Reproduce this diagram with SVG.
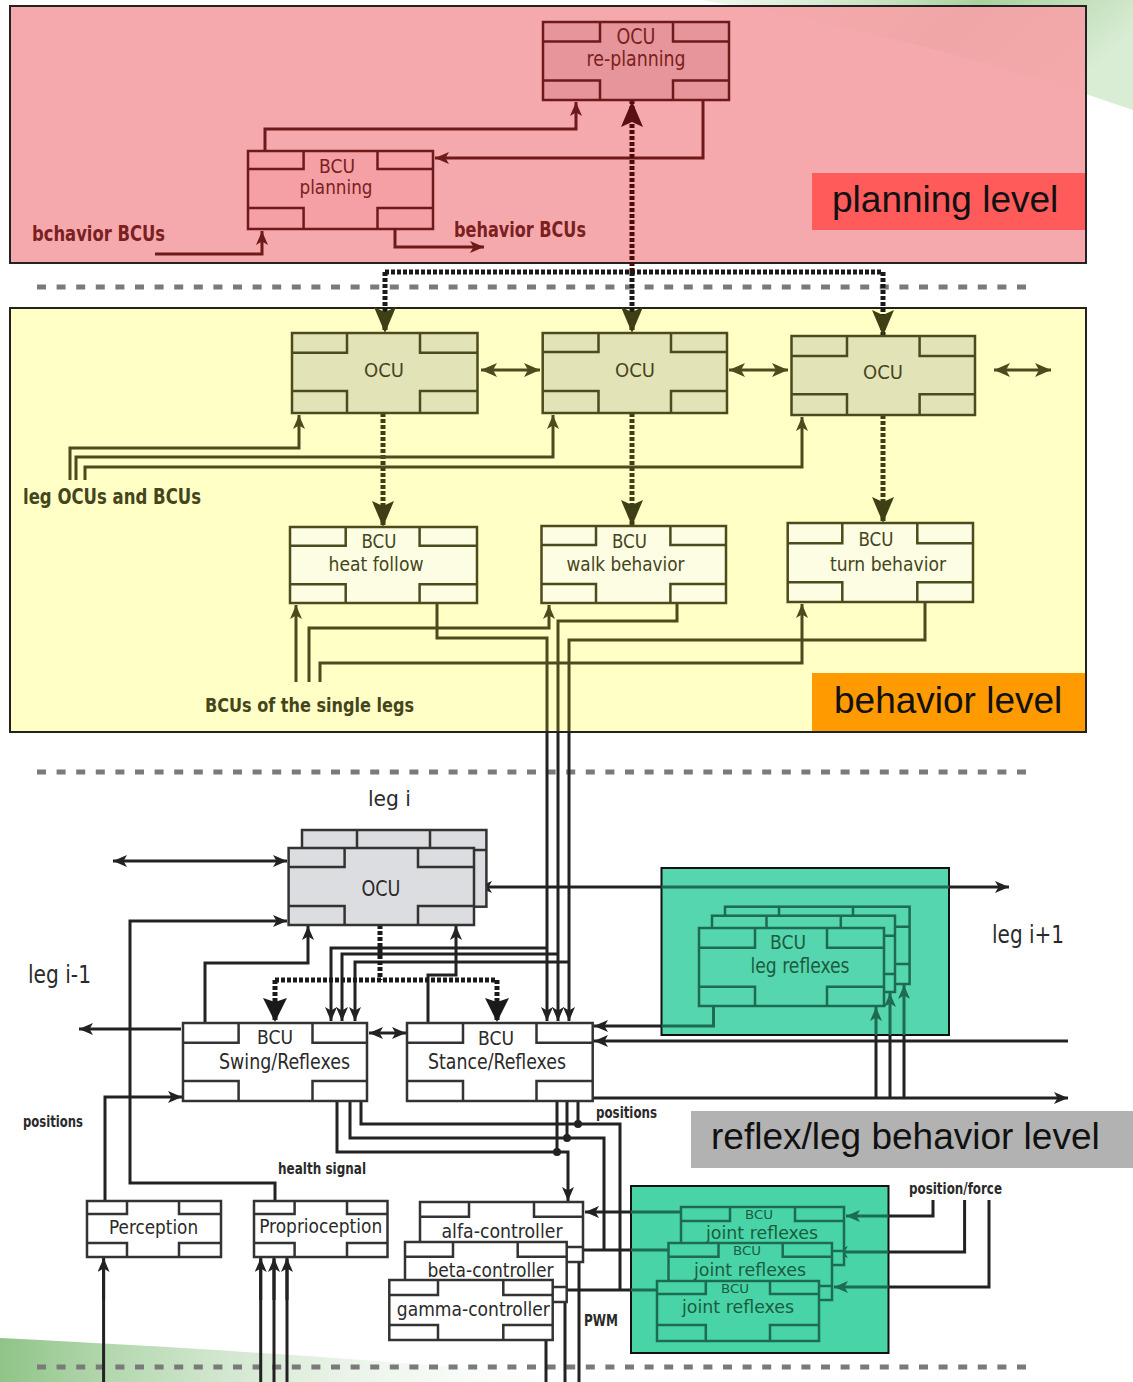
<svg xmlns="http://www.w3.org/2000/svg" width="1133" height="1382" viewBox="0 0 1133 1382">
<style>
.f{font-family:"DejaVu Sans Condensed","DejaVu Sans",sans-serif;font-stretch:condensed}
.L{font-family:"Liberation Sans",Arial,sans-serif;font-size:37px;fill:#111}
.m{text-anchor:middle}
.b{font-weight:bold}
.tr{fill:#7a2020}
.ty{fill:#45451c}
.tk{fill:#2a2a2a}
.tg{fill:#1b5c40}
.box{stroke-width:2.5}
.br{stroke:#6e1a1a}
.by{stroke:#4b4b1e}
.bk{stroke:#333}
.bg{stroke:#1d6b50}
.tab{fill:none;stroke-width:2.5}
.c{fill:none;stroke-width:3}
.cr{stroke:#6e1a1a}
.cy{stroke:#4b4b1e}
.ck{stroke:#222}
.cg{stroke:#1d6b50}
.dot{fill:none;stroke-width:5;stroke-dasharray:4 2}
.sep{fill:none;stroke:#7a7a7a;stroke-width:5;stroke-dasharray:9 10.6}
</style>
<defs>
<marker id="aK" viewBox="0 0 14 12" refX="14" refY="6" markerWidth="14" markerHeight="12" markerUnits="userSpaceOnUse" orient="auto-start-reverse"><path d="M0,0 L14,6 L0,12 L3.5,6z" fill="#222"/></marker>
<marker id="aR" viewBox="0 0 14 12" refX="14" refY="6" markerWidth="14" markerHeight="12" markerUnits="userSpaceOnUse" orient="auto-start-reverse"><path d="M0,0 L14,6 L0,12 L3.5,6z" fill="#6e1a1a"/></marker>
<marker id="aY" viewBox="0 0 14 12" refX="14" refY="6" markerWidth="14" markerHeight="12" markerUnits="userSpaceOnUse" orient="auto-start-reverse"><path d="M0,0 L14,6 L0,12 L3.5,6z" fill="#4b4b1e"/></marker>
<marker id="aY2" viewBox="0 0 16 14" refX="16" refY="7" markerWidth="16" markerHeight="14" markerUnits="userSpaceOnUse" orient="auto-start-reverse"><path d="M0,0 L16,7 L0,14 L4,7z" fill="#4b4b1e"/></marker>
<marker id="aG" viewBox="0 0 14 12" refX="14" refY="6" markerWidth="14" markerHeight="12" markerUnits="userSpaceOnUse" orient="auto-start-reverse"><path d="M0,0 L14,6 L0,12 L3.5,6z" fill="#1d6b50"/></marker>
<marker id="bR" viewBox="0 0 26 22" refX="26" refY="11" markerWidth="26" markerHeight="22" markerUnits="userSpaceOnUse" orient="auto"><path d="M0,0 L26,11 L0,22 L5,11z" fill="#5a1010"/></marker>
<marker id="bY" viewBox="0 0 26 22" refX="26" refY="11" markerWidth="26" markerHeight="22" markerUnits="userSpaceOnUse" orient="auto"><path d="M0,0 L26,11 L0,22 L5,11z" fill="#3f3f16"/></marker>
<marker id="bK" viewBox="0 0 24 24" refX="24" refY="12" markerWidth="24" markerHeight="24" markerUnits="userSpaceOnUse" orient="auto"><path d="M0,0 L24,12 L0,24 L4,12z" fill="#1a1a1a"/></marker>
<linearGradient id="gTop" x1="0" y1="0" x2="1" y2="0.3"><stop offset="0" stop-color="#cfe6c8" stop-opacity="0.3"/><stop offset="0.6" stop-color="#a9d29e"/><stop offset="1" stop-color="#d9ecd4"/></linearGradient>
<linearGradient id="gBot" x1="0" y1="0" x2="1" y2="0"><stop offset="0" stop-color="#8fc487"/><stop offset="1" stop-color="#ffffff" stop-opacity="0"/></linearGradient>
</defs>
<rect width="1133" height="1382" fill="#fff"/>
<g id="background">
<path d="M700,0 L1133,0 L1133,110 C1020,70 860,25 700,0z" fill="url(#gTop)"/>
<path d="M0,1338 C200,1348 420,1362 620,1382 L0,1382z" fill="url(#gBot)"/>
</g>
<g id="levels">
<rect x="10" y="6" width="1076" height="257" fill="#f5a3a7" fill-opacity="0.93" stroke="#222" stroke-width="2"/>
<rect x="10" y="308" width="1076" height="424" fill="#ffffc6" stroke="#222" stroke-width="2"/>
<rect x="661.5" y="868" width="287.5" height="167" fill="#55d6ae" stroke="#111" stroke-width="2"/>
<rect x="631" y="1186" width="257.5" height="167" fill="#48d4a7" stroke="#111" stroke-width="2"/>
<path class="sep" d="M37,287 H1030"/>
<path class="sep" d="M37,772 H1030"/>
<path class="sep" d="M37,1367 H1030"/>
<rect x="812" y="173" width="273" height="57" fill="#ff5b5b"/>
<text class="L" x="832" y="212">planning level</text>
<rect x="812" y="673" width="273" height="58" fill="#ff9a00"/>
<text class="L" x="834" y="713">behavior level</text>
<rect x="691" y="1111" width="442" height="57" fill="#b2b2b2"/>
<text class="L" x="711" y="1149">reflex/leg behavior level</text>
</g>
<g id="connectors">
<!-- planning -->
<path class="c cr" d="M265,151 V129 H576 V102" marker-end="url(#aR)"/>
<path class="c cr" d="M703,100 V158 H435" marker-end="url(#aR)"/>
<path class="c cr" d="M155,254 H262 V231" marker-end="url(#aR)"/>
<path class="c cr" d="M395,229 V247 H484" marker-end="url(#aR)"/>
<path class="dot" stroke="#4a0c0c" d="M632,272 V101" marker-end="url(#bR)"/>
<path class="dot" stroke="#1a1a1a" d="M385,272 H883"/>
<path class="dot" stroke="#1a1a1a" d="M385,272 V333" marker-end="url(#bY)"/>
<path class="dot" stroke="#1a1a1a" d="M632,272 V333" marker-end="url(#bY)"/>
<path class="dot" stroke="#1a1a1a" d="M883,272 V336" marker-end="url(#bY)"/>
<text class="f b tr" x="32" y="241" font-size="21" textLength="133" lengthAdjust="spacingAndGlyphs">bchavior BCUs</text>
<text class="f b tr" x="454" y="237" font-size="21" textLength="132" lengthAdjust="spacingAndGlyphs">behavior BCUs</text>
<!-- behavior -->
<path class="c cy" stroke-width="3.5" d="M481,370 H540" marker-start="url(#aY2)" marker-end="url(#aY2)"/>
<path class="c cy" stroke-width="3.5" d="M729,370 H788" marker-start="url(#aY2)" marker-end="url(#aY2)"/>
<path class="c cy" stroke-width="3.5" d="M994,370 H1051" marker-start="url(#aY2)" marker-end="url(#aY2)"/>
<path class="dot" stroke="#3f3f16" d="M383,413 V527" marker-end="url(#bY)"/>
<path class="dot" stroke="#3f3f16" d="M632,413 V526" marker-end="url(#bY)"/>
<path class="dot" stroke="#3f3f16" d="M883,415 V523" marker-end="url(#bY)"/>
<path class="c cy" d="M70,480 V448 H299 V415" marker-end="url(#aY)"/>
<path class="c cy" d="M76,480 V457 H553 V415" marker-end="url(#aY)"/>
<path class="c cy" d="M85,480 V467 H802 V417" marker-end="url(#aY)"/>
<path class="c cy" d="M296,682 V605" marker-end="url(#aY)"/>
<path class="c cy" d="M309,682 V628 H549 V605" marker-end="url(#aY)"/>
<path class="c cy" d="M320,682 V663 H802 V604" marker-end="url(#aY)"/>
<path class="c ck" d="M547,731 V1021" marker-end="url(#aK)"/>
<path class="c ck" d="M558,731 V1021" marker-end="url(#aK)"/>
<path class="c ck" d="M569,731 V1021" marker-end="url(#aK)"/>
<path class="c cy" d="M437,603 V638 H547 V731"/>
<path class="c cy" d="M677,603 V621 H558 V731"/>
<path class="c cy" d="M925,602 V640 H569 V731"/>
<text class="f b ty" x="23" y="504" font-size="21" textLength="178" lengthAdjust="spacingAndGlyphs">leg OCUs and BCUs</text>
<text class="f b ty" x="205" y="712" font-size="20" textLength="209" lengthAdjust="spacingAndGlyphs">BCUs of the single legs</text>
<!-- leg i -->
<path class="c ck" d="M547,948 H331 V1021" marker-end="url(#aK)"/>
<path class="c ck" d="M558,954 H342 V1021" marker-end="url(#aK)"/>
<path class="c ck" d="M569,962 H355 V1021" marker-end="url(#aK)"/>
<path class="c ck" d="M113,861 H287" marker-start="url(#aK)" marker-end="url(#aK)"/>
<path class="c ck" d="M661.5,887 H478" marker-end="url(#aK)"/>
<path class="c cg" d="M949,887 H661.5"/>
<path class="c ck" d="M949,887 H1009" marker-end="url(#aK)"/>
<path class="c ck" d="M275,1201 V1183 H130 V921 H287" marker-end="url(#aK)"/>
<path class="c ck" d="M205,1023 V963 H308 V926" marker-end="url(#aK)"/>
<path class="c ck" d="M428,1023 V975 H456 V926" marker-end="url(#aK)"/>
<path class="dot" stroke="#1a1a1a" d="M380,925 V980"/>
<path class="dot" stroke="#1a1a1a" d="M275,980 H497"/>
<path class="dot" stroke="#1a1a1a" d="M275,980 V1022" marker-end="url(#bK)"/>
<path class="dot" stroke="#1a1a1a" d="M497,980 V1022" marker-end="url(#bK)"/>
<path class="c ck" d="M369,1033 H406" marker-start="url(#aK)" marker-end="url(#aK)"/>
<path class="c ck" d="M181,1029 H79" marker-end="url(#aK)"/>
<path class="c ck" d="M105,1201 V1097 H182" marker-end="url(#aK)"/>
<path class="c cg" d="M713.5,1006 V1026 H661.5"/>
<path class="c ck" d="M661.5,1026 H594" marker-end="url(#aK)"/>
<path class="c ck" d="M1068,1041 H594" marker-end="url(#aK)"/>
<path class="c ck" d="M593,1098 H1068" marker-end="url(#aK)"/>
<path class="c ck" d="M876,1098 V1035 M890,1098 V1035 M904,1098 V1035"/>
<path class="c cg" d="M876,1035 V1007" marker-end="url(#aG)"/>
<path class="c cg" d="M890,1035 V993" marker-end="url(#aG)"/>
<path class="c cg" d="M904,1035 V985" marker-end="url(#aG)"/>
<!-- lower -->
<path class="c ck" d="M337,1101 V1152 H568 V1201" marker-end="url(#aK)"/>
<path class="c ck" d="M350,1101 V1138 H604 V1250"/>
<path class="c ck" d="M361,1101 V1124 H620 V1290"/>
<path class="c ck" d="M557,1101 V1152 M567,1101 V1138 M578,1101 V1124"/>
<circle cx="557" cy="1152" r="4" fill="#222"/>
<circle cx="567" cy="1138" r="4" fill="#222"/>
<circle cx="578" cy="1124" r="4" fill="#222"/>
<path class="c cg" d="M681,1212 H631 M668.5,1250 H631 M657,1290 H631"/>
<path class="c ck" d="M631,1212 H585" marker-end="url(#aK)"/>
<path class="c ck" d="M631,1250 H568" marker-end="url(#aK)"/>
<path class="c ck" d="M631,1290 H554" marker-end="url(#aK)"/>
<path class="c ck" d="M579,1262 V1382 M565,1302 V1382 M546,1340 V1382"/>
<path class="c ck" d="M933,1200 V1216 H888.5 M964.6,1200 V1252 H888.5 M989,1200 V1287 H888.5"/>
<path class="c cg" d="M888.5,1216 H846" marker-end="url(#aG)"/>
<path class="c cg" d="M888.5,1252 H834" marker-end="url(#aG)"/>
<path class="c cg" d="M888.5,1287 H834" marker-end="url(#aG)"/>
<path class="c ck" d="M103.6,1382 V1259 M260.7,1382 V1259 M274,1382 V1259 M287,1382 V1259"/>
<path class="c ck" d="M103.6,1300 V1258" marker-end="url(#aK)"/>
<path class="c ck" d="M260.7,1300 V1258" marker-end="url(#aK)"/>
<path class="c ck" d="M274,1300 V1258" marker-end="url(#aK)"/>
<path class="c ck" d="M287,1300 V1258" marker-end="url(#aK)"/>
<text class="f b tk" x="23" y="1127" font-size="15" textLength="60" lengthAdjust="spacingAndGlyphs">positions</text>
<text class="f b tk" x="278" y="1174" font-size="16" textLength="88" lengthAdjust="spacingAndGlyphs">health signal</text>
<text class="f b tk" x="596" y="1118" font-size="15" textLength="61" lengthAdjust="spacingAndGlyphs">positions</text>
<text class="f b tk" x="909" y="1194" font-size="15" textLength="93" lengthAdjust="spacingAndGlyphs">position/force</text>
<text class="f b tk" x="584" y="1326" font-size="15" textLength="34" lengthAdjust="spacingAndGlyphs">PWM</text>
<text class="f tk" x="368" y="806" font-size="22" textLength="43" lengthAdjust="spacingAndGlyphs">leg i</text>
<text class="f tk" x="28" y="983" font-size="24" textLength="63" lengthAdjust="spacingAndGlyphs">leg i-1</text>
<text class="f tk" x="992" y="943" font-size="24" textLength="72" lengthAdjust="spacingAndGlyphs">leg i+1</text>
</g>
<g id="ocu-replanning">
<rect class="box br" x="543" y="22" width="186" height="78" fill="#e6969b"/>
<path class="tab br" d="M543,41.5 H600 V22 M729,41.5 H673 V22 M543,80.5 H600 V100 M729,80.5 H673 V100"/>
<text class="f m tr" x="636" y="44" font-size="21" textLength="39" lengthAdjust="spacingAndGlyphs">OCU</text>
<text class="f m tr" x="636" y="66" font-size="21" textLength="99" lengthAdjust="spacingAndGlyphs">re-planning</text>
</g>
<g id="bcu-planning">
<rect class="box br" x="248" y="151" width="185" height="78" fill="#f4a0a4"/>
<path class="tab br" d="M248,169 H303.6 V151 M433,169 H377.5 V151 M248,208 H303.6 V229 M433,208 H377.5 V229"/>
<text class="f m tr" x="337" y="173" font-size="19" textLength="36" lengthAdjust="spacingAndGlyphs">BCU</text>
<text class="f m tr" x="336" y="194" font-size="20" textLength="73" lengthAdjust="spacingAndGlyphs">planning</text>
</g>
<g id="ocu-1">
<rect class="box by" x="292" y="333" width="185.5" height="80" fill="#e3e3b8"/>
<path class="tab by" d="M292,352.7 H347 V333 M477.5,352.7 H420 V333 M292,391 H347 V413 M477.5,391 H420 V413"/>
<text class="f m ty" x="384" y="377" font-size="20" textLength="40" lengthAdjust="spacingAndGlyphs">OCU</text>
</g>
<g id="ocu-2">
<rect class="box by" x="542.7" y="333" width="184.3" height="80" fill="#e3e3b8"/>
<path class="tab by" d="M542.7,352 H598.5 V333 M727,352 H671 V333 M542.7,391 H598.5 V413 M727,391 H671 V413"/>
<text class="f m ty" x="635" y="377" font-size="20" textLength="40" lengthAdjust="spacingAndGlyphs">OCU</text>
</g>
<g id="ocu-3">
<rect class="box by" x="791.5" y="336" width="183.5" height="79" fill="#e3e3b8"/>
<path class="tab by" d="M791.5,356 H847 V336 M975,356 H919.6 V336 M791.5,394.3 H847 V415 M975,394.3 H919.6 V415"/>
<text class="f m ty" x="883" y="379" font-size="20" textLength="40" lengthAdjust="spacingAndGlyphs">OCU</text>
</g>
<g id="bcu-heat-follow">
<rect class="box by" x="290" y="527" width="187" height="76" fill="#fdfde3"/>
<path class="tab by" d="M290,545.7 H345.7 V527 M477,545.7 H419.6 V527 M290,584.3 H345.7 V603 M477,584.3 H419.6 V603"/>
<text class="f m ty" x="379" y="548" font-size="19" textLength="35" lengthAdjust="spacingAndGlyphs">BCU</text>
<text class="f m ty" x="376" y="571" font-size="20" textLength="95" lengthAdjust="spacingAndGlyphs">heat follow</text>
</g>
<g id="bcu-walk">
<rect class="box by" x="541.5" y="526" width="184.5" height="77" fill="#fdfde3"/>
<path class="tab by" d="M541.5,545 H596 V526 M726,545 H670.4 V526 M541.5,584 H596 V603 M726,584 H670.4 V603"/>
<text class="f m ty" x="629.5" y="548" font-size="19" textLength="35" lengthAdjust="spacingAndGlyphs">BCU</text>
<text class="f m ty" x="625.5" y="571" font-size="20" textLength="118" lengthAdjust="spacingAndGlyphs">walk behavior</text>
</g>
<g id="bcu-turn">
<rect class="box by" x="787.7" y="523" width="185.3" height="79" fill="#fdfde3"/>
<path class="tab by" d="M787.7,543.3 H842.3 V523 M973,543.3 H917.3 V523 M787.7,582.3 H842.3 V602 M973,582.3 H917.3 V602"/>
<text class="f m ty" x="876" y="546" font-size="19" textLength="35" lengthAdjust="spacingAndGlyphs">BCU</text>
<text class="f m ty" x="888" y="571" font-size="20" textLength="116" lengthAdjust="spacingAndGlyphs">turn behavior</text>
</g>
<g id="ocu-leg-i">
<rect class="box bk" x="302" y="830" width="184.4" height="76.7" fill="#dcdde0"/>
<path class="tab bk" d="M302,850 H357 V830 M486.4,850 H430 V830"/>
<rect class="box bk" x="288.6" y="848" width="185.4" height="77" fill="#dcdde0"/>
<path class="tab bk" d="M288.6,867 H344.6 V848 M474,867 H418 V848 M288.6,906 H344.6 V925 M474,906 H418 V925"/>
<text class="f m tk" x="381" y="896" font-size="22" textLength="39" lengthAdjust="spacingAndGlyphs">OCU</text>
</g>
<g id="bcu-swing">
<rect class="box bk" x="183" y="1023" width="184" height="78" fill="#fff"/>
<path class="tab bk" d="M183,1042.7 H238.6 V1023 M367,1042.7 H312.5 V1023 M183,1081 H238.6 V1101 M367,1081 H312.5 V1101"/>
<text class="f m tk" x="275" y="1044" font-size="19" textLength="36" lengthAdjust="spacingAndGlyphs">BCU</text>
<text class="f m tk" x="284.5" y="1069" font-size="21" textLength="131" lengthAdjust="spacingAndGlyphs">Swing/Reflexes</text>
</g>
<g id="bcu-stance">
<rect class="box bk" x="407" y="1023" width="185.7" height="78" fill="#fff"/>
<path class="tab bk" d="M407,1042.7 H463 V1023 M592.7,1042.7 H536.5 V1023 M407,1081 H463 V1101 M592.7,1081 H536.5 V1101"/>
<text class="f m tk" x="496" y="1045" font-size="19" textLength="36" lengthAdjust="spacingAndGlyphs">BCU</text>
<text class="f m tk" x="497" y="1069" font-size="21" textLength="138" lengthAdjust="spacingAndGlyphs">Stance/Reflexes</text>
</g>
<g id="bcu-leg-reflexes">
<rect class="box bg" x="725" y="906.7" width="184.6" height="77.3" fill="#55d6ae"/>
<path class="tab bg" d="M725,926.7 H779 V906.7 M909.6,926.7 H853 V906.7 M909.6,964 H853 V984"/>
<rect class="box bg" x="712" y="915.7" width="183" height="76.3" fill="#55d6ae"/>
<path class="tab bg" d="M712,935.7 H766.5 V915.7 M895,935.7 H840.8 V915.7 M895,974 H840.8 V992"/>
<rect class="box bg" x="699" y="928" width="185" height="78" fill="#55d6ae"/>
<path class="tab bg" d="M699,947.7 H755 V928 M884,947.7 H827 V928 M699,986.7 H755 V1006 M884,986.7 H827 V1006"/>
<text class="f m tg" x="788" y="949" font-size="19" textLength="36" lengthAdjust="spacingAndGlyphs">BCU</text>
<text class="f m tg" x="800" y="973" font-size="21" textLength="99" lengthAdjust="spacingAndGlyphs">leg reflexes</text>
</g>
<g id="perception">
<rect class="box bk" x="87" y="1201" width="134" height="56" fill="#fff"/>
<path class="tab bk" d="M87,1214 H127 V1201 M221,1214 H179 V1201 M87,1243 H127 V1257 M221,1243 H179 V1257"/>
<text class="f m tk" x="153.6" y="1234" font-size="19" textLength="89" lengthAdjust="spacingAndGlyphs">Perception</text>
</g>
<g id="proprioception">
<rect class="box bk" x="254" y="1201" width="133.5" height="56" fill="#fff"/>
<path class="tab bk" d="M254,1214 H294.6 V1201 M387.5,1214 H347 V1201 M254,1243 H294.6 V1257 M387.5,1243 H347 V1257"/>
<text class="f m tk" x="320.7" y="1233" font-size="19" textLength="123" lengthAdjust="spacingAndGlyphs">Proprioception</text>
</g>
<g id="alfa-controller">
<rect class="box bk" x="420" y="1202" width="163" height="60" fill="#fff"/>
<path class="tab bk" d="M420,1216.7 H469 V1202 M583,1216.7 H534 V1202 M420,1247 H469 V1262 M583,1247 H534 V1262"/>
<text class="f m tk" x="502" y="1238" font-size="20" textLength="121" lengthAdjust="spacingAndGlyphs">alfa-controller</text>
</g>
<g id="beta-controller">
<rect class="box bk" x="405" y="1242" width="161.7" height="60" fill="#fff"/>
<path class="tab bk" d="M405,1256.7 H453 V1242 M566.7,1256.7 H517.7 V1242 M405,1287 H453 V1302 M566.7,1287 H517.7 V1302"/>
<text class="f m tk" x="490.5" y="1277" font-size="20" textLength="126" lengthAdjust="spacingAndGlyphs">beta-controller</text>
</g>
<g id="gamma-controller">
<rect class="box bk" x="389.3" y="1280" width="163.4" height="60" fill="#fff"/>
<path class="tab bk" d="M389.3,1295 H438 V1280 M552.7,1295 H503.3 V1280 M389.3,1325 H438 V1340 M552.7,1325 H503.3 V1340"/>
<text class="f m tk" x="473.3" y="1316" font-size="20" textLength="153" lengthAdjust="spacingAndGlyphs">gamma-controller</text>
</g>
<g id="bcu-joint-reflexes">
<rect class="box bg" x="681" y="1207" width="163" height="58" fill="#48d4a7"/>
<path class="tab bg" d="M681,1221 H730 V1207 M844,1221 H795 V1207 M844,1251 H795 V1265"/>
<text class="f m tg" x="759" y="1219" font-size="13" textLength="28" lengthAdjust="spacingAndGlyphs">BCU</text>
<text class="f m tg" x="762" y="1239" font-size="18" textLength="112" lengthAdjust="spacingAndGlyphs">joint reflexes</text>
<rect class="box bg" x="668.5" y="1243" width="163.5" height="57" fill="#48d4a7"/>
<path class="tab bg" d="M668.5,1256.7 H718.5 V1243 M832,1256.7 H782.7 V1243 M832,1286 H782.7 V1300"/>
<text class="f m tg" x="747" y="1255" font-size="13" textLength="28" lengthAdjust="spacingAndGlyphs">BCU</text>
<text class="f m tg" x="750" y="1276" font-size="18" textLength="112" lengthAdjust="spacingAndGlyphs">joint reflexes</text>
<rect class="box bg" x="657" y="1281" width="162" height="60" fill="#48d4a7"/>
<path class="tab bg" d="M657,1294 H705.8 V1281 M819,1294 H770 V1281 M657,1325 H705.8 V1341 M819,1325 H770 V1341"/>
<text class="f m tg" x="735" y="1293" font-size="13" textLength="28" lengthAdjust="spacingAndGlyphs">BCU</text>
<text class="f m tg" x="738" y="1313" font-size="18" textLength="112" lengthAdjust="spacingAndGlyphs">joint reflexes</text>
</g>
</svg>
